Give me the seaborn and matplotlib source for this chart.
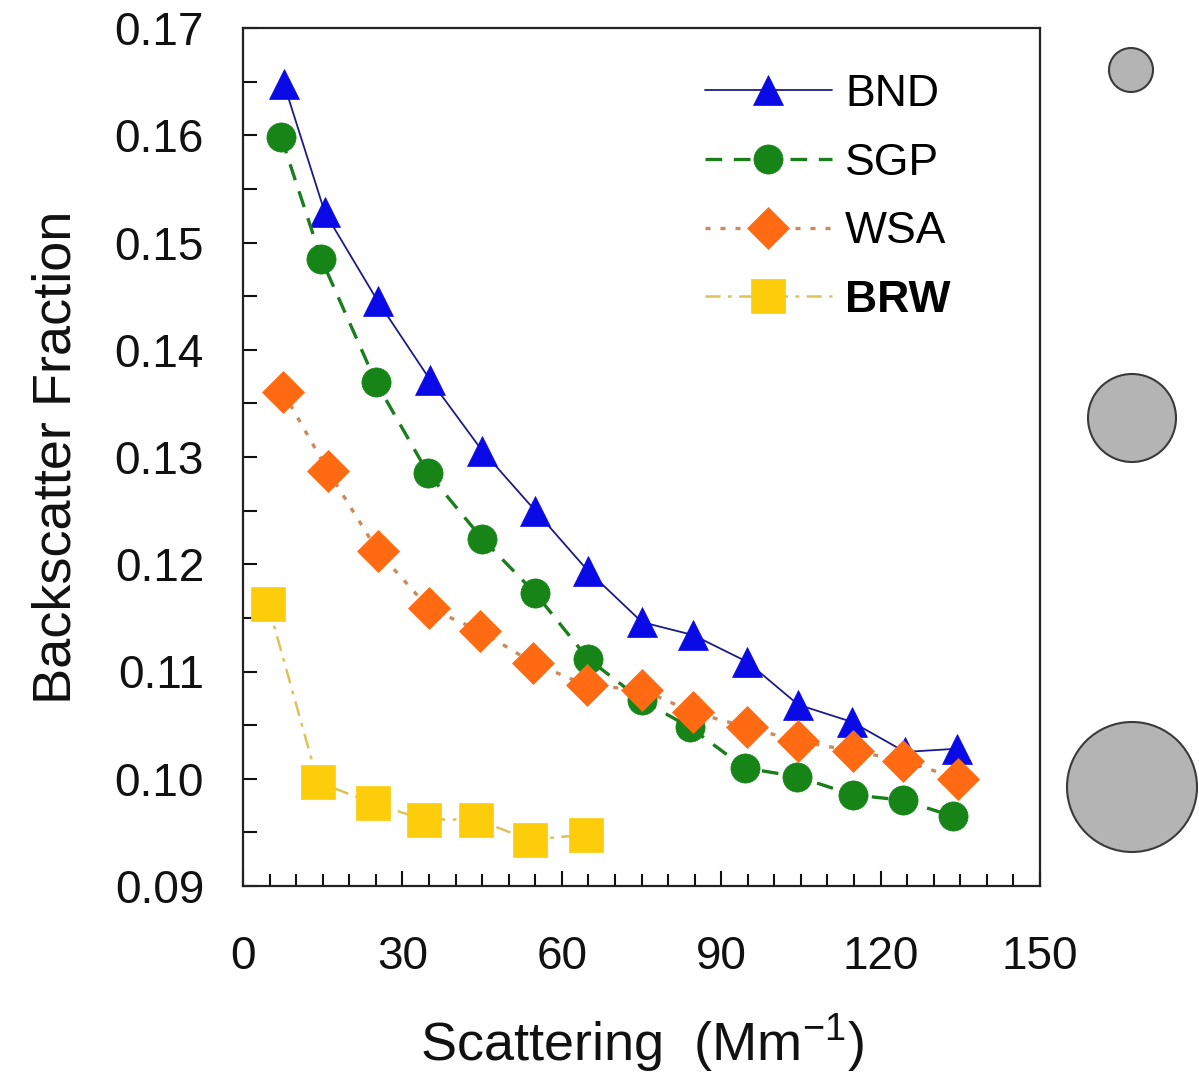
import numpy as np
import pandas as pd
import matplotlib
matplotlib.use("Agg")
import matplotlib.pyplot as plt
from matplotlib.patches import Circle
from matplotlib.ticker import MultipleLocator
import seaborn as sns

# ---- data ----
bnd_x = [7.7, 15.4, 25.4, 35.2, 45.0, 55.0, 64.9, 75.1, 84.7, 94.9, 104.5, 114.6, 124.6, 134.4]
bnd_y = [0.1648, 0.1528, 0.1445, 0.1372, 0.1306, 0.1250, 0.1194, 0.1146, 0.1134, 0.1109, 0.1069, 0.1053, 0.1025, 0.1028]

sgp_x = [7.2, 14.7, 25.0, 34.8, 45.0, 55.0, 64.9, 75.1, 84.1, 94.5, 104.3, 114.8, 124.2, 133.6]
sgp_y = [0.1598, 0.1485, 0.1370, 0.1285, 0.1224, 0.1173, 0.1112, 0.1073, 0.1048, 0.1010, 0.1002, 0.0985, 0.0980, 0.0965]

wsa_x = [7.5, 16.0, 25.4, 35.0, 44.6, 54.6, 64.7, 75.1, 84.7, 94.9, 104.5, 114.8, 124.2, 134.6]
wsa_y = [0.1361, 0.1287, 0.1212, 0.1159, 0.1138, 0.1108, 0.1087, 0.1083, 0.1062, 0.1048, 0.1035, 0.1026, 0.1017, 0.1000]

brw_x = [4.7, 14.1, 24.5, 34.1, 43.9, 54.0, 64.6]
brw_y = [0.1163, 0.0997, 0.0977, 0.0962, 0.0962, 0.0943, 0.0948]

series_names = ["BND", "SGP", "WSA", "BRW"]
x_ticks = [0, 30, 60, 90, 120, 150]
y_ticks = [0.09, 0.10, 0.11, 0.12, 0.13, 0.14, 0.15, 0.16, 0.17]
y_ticklabels = ["0.09", "0.10", "0.11", "0.12", "0.13", "0.14", "0.15", "0.16", "0.17"]

# size circles on the right (pixel centre x, y, radius)
circle_cx = [1131, 1132, 1132]
circle_cy = [70, 418, 787]
circle_r = [22, 44, 65]

# ---- style ----
sns.set_theme(style="ticks")
plt.rcParams["font.family"] = ["Liberation Sans", "DejaVu Sans"]
plt.rcParams["mathtext.fontset"] = "custom"
plt.rcParams["mathtext.rm"] = "Liberation Sans"
plt.rcParams["mathtext.it"] = "Liberation Sans"
plt.rcParams["text.color"] = "#000000"

W, H = 1199, 1078
fig = plt.figure(figsize=(W / 100, H / 100), dpi=100)
ax = fig.add_axes([243 / W, 1 - 886 / H, (1040 - 243) / W, (886 - 28) / H])

styles = [
    dict(x=bnd_x, y=bnd_y, marker="^", ms=22, lc="#1c1c86", mc="#0a0ae6", ls="-", lw=1.3),
    dict(x=sgp_x, y=sgp_y, marker="o", ms=21, lc="#1b7d1b", mc="#168416", ls=(0, (5, 3.5)), lw=2.4),
    dict(x=wsa_x, y=wsa_y, marker="D", ms=21.5, lc="#c98a5c", mc="#ff6a12", ls=(0, (1.5, 3)), lw=2.4),
    dict(x=brw_x, y=brw_y, marker="s", ms=25, lc="#dcc25a", mc="#fdcc0a", ls=(0, (6, 3, 1.5, 3)), lw=1.8),
]

for name, st in zip(series_names, styles):
    df = pd.DataFrame({"x": st["x"], "y": st["y"]})
    sns.lineplot(data=df, x="x", y="y", ax=ax, estimator=None, sort=False,
                 color=st["lc"], linestyle=st["ls"], linewidth=st["lw"],
                 marker=st["marker"], markersize=st["ms"],
                 markerfacecolor=st["mc"], markeredgecolor=st["mc"],
                 markeredgewidth=0.5, label=name)

ax.set_xlim(0, 150)
ax.set_ylim(0.09, 0.17)
ax.set_xticks(x_ticks)
ax.set_yticks(y_ticks)
ax.set_yticklabels(y_ticklabels)
ax.xaxis.set_minor_locator(MultipleLocator(5))
ax.yaxis.set_minor_locator(MultipleLocator(0.005))
ax.tick_params(axis="both", which="both", direction="in", width=1.5, colors="#111111",
               labelsize=33, labelcolor="#111111")
ax.tick_params(axis="x", which="major", length=11, pad=35)
ax.tick_params(axis="x", which="minor", length=9)
ax.tick_params(axis="y", which="both", length=10, pad=28)
for sp in ax.spines.values():
    sp.set_visible(True)
    sp.set_linewidth(1.6)
    sp.set_color("#222222")

ax.set_xlabel("Scattering  (Mm$^{-1}$)", fontsize=39, labelpad=24, color="#111111")
ax.set_ylabel("Backscatter Fraction", fontsize=39, labelpad=24, color="#111111")

leg = ax.legend(loc="upper left", bbox_to_anchor=((705 - 243) / (1040 - 243), 1 - (74 - 28) / (886 - 28)),
                frameon=False, fontsize=32, handlelength=2.85, handletextpad=0.3,
                labelspacing=0.62, borderpad=0, borderaxespad=0, markerscale=1.0)
for t in leg.get_texts():
    t.set_color("#000000")
leg.get_texts()[3].set_fontweight("bold")

# decorative size circles at the right
ax2 = fig.add_axes([1050 / W, 0, (W - 1050) / W, 1])
ax2.set_xlim(1050, W)
ax2.set_ylim(H, 0)
ax2.axis("off")
for cx, cy, r in zip(circle_cx, circle_cy, circle_r):
    ax2.add_patch(Circle((cx, cy), r, facecolor="#b4b4b4", edgecolor="#3a3a3a", linewidth=1.5))

fig.savefig("out.png", dpi=100, facecolor="white")
